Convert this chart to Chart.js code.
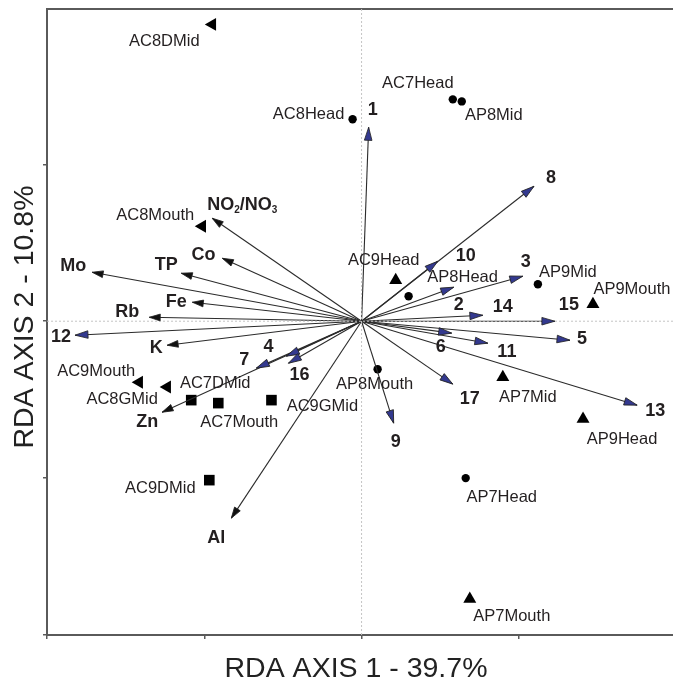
<!DOCTYPE html>
<html>
<head>
<meta charset="utf-8">
<script src="https://cdn.jsdelivr.net/npm/chart.js@4.4.1/dist/chart.umd.min.js"></script>
<style>
  html, body { margin: 0; padding: 0; background: #fff; }
  #plot { display: block; }
</style>
</head>
<body>
<canvas id="plot" width="673" height="678"></canvas>
<script>
// Variables ambientales (flechas con punta negra)
const envNames = ["NO2/NO3", "Co", "TP", "Mo", "Fe", "Rb", "K", "Zn", "Al"];
const envX = [-0.949, -0.885, -1.146, -1.713, -1.076, -1.350, -1.236, -1.268, -0.828];
const envY = [0.656, 0.401, 0.306, 0.312, 0.121, 0.025, -0.153, -0.580, -1.255];

// Especies (flechas con punta azul)
const speciesNames = ["1", "2", "3", "4", "5", "6", "7", "8", "9", "10", "11", "12", "13", "14", "15", "16", "17"];
const speciesX = [0.045, 0.586, 1.025, -0.478, 1.325, 0.573, -0.669, 1.096, 0.204, 0.484, 0.803, -1.822, 1.752, 0.771, 1.229, -0.465, 0.580];
const speciesY = [1.236, 0.217, 0.287, -0.223, -0.121, -0.076, -0.299, 0.860, -0.650, 0.382, -0.140, -0.089, -0.535, 0.038, 0.000, -0.268, -0.401];

// Sitios de muestreo
const siteNames = ["AC8DMid", "AC8Head", "AC7Head", "AP8Mid", "AC8Mouth", "AC9Head", "AP8Head", "AP9Mid", "AP9Mouth", "AC9Mouth",
  "AC8GMid", "AC7DMid", "AC7Mouth", "AC9GMid", "AP8Mouth", "AP7Mid", "AP9Head", "AP7Head", "AC9DMid", "AP7Mouth"];
const siteX = [-0.949, -0.057, 0.580, 0.637, -1.013, 0.217, 0.299, 1.121, 1.471, -1.414,
  -1.236, -1.083, -0.911, -0.573, 0.102, 0.898, 1.408, 0.662, -0.968, 0.688];
const siteY = [1.892, 1.287, 1.414, 1.401, 0.605, 0.261, 0.159, 0.236, 0.108, -0.389,
  -0.420, -0.503, -0.522, -0.503, -0.306, -0.357, -0.624, -1.000, -1.013, -1.771];
const siteShape = ["left", "circle", "circle", "circle", "left", "up", "circle", "circle", "up", "left",
  "left", "square", "square", "square", "circle", "up", "up", "circle", "square", "up"];

const axisTitleX = "RDA AXIS 1 - 39.7%";
const axisTitleY = "RDA AXIS 2 - 10.8%";

// Desplazamiento de etiquetas en pixeles (centro del texto respecto al punto)
const envOffsets = [[30, -13], [-19, -3], [-15, -8], [-19, -6], [-16, 0], [-22, -5], [-11, 3], [-15, 10], [-15, 20]];
const speciesOffsets = [[4, -17], [5, 18], [3, -14], [-18, -9], [12, -1], [-11, 14], [-12, -8], [17, -8], [2, 19], [28, -5],
  [19, 9], [-14, 2], [18, 6], [20, -8], [14, -16], [11, 12], [17, 15]];
const siteOffsets = [[-48, 17], [-44, -5], [-35, -16], [32, 14], [-47, -11], [-12, -20], [54, -19], [30, -12], [39, -15], [-43, -11],
  [-45, 12], [24, -17], [21, 19], [51, 6], [-3, 15], [25, 20], [39, 20], [36, 19], [-49, 8], [42, 17]];

const textColor = "#231f20";
const font = '"Liberation Sans", Arial, sans-serif';

let arrowDataset = (x, y, kind, name, offset) => ({
  type: "line",
  data: [{ x: 0, y: 0 }, { x: x, y: y }],
  borderColor: "#2b2b2b",
  borderWidth: 1.1,
  pointRadius: 0,
  pointHoverRadius: 0,
  kind: kind,
  label: name,
  offset: offset,
});

let shapeStyle = {
  circle: { pointStyle: "circle", radius: 4.2, rotation: 0 },
  up: { pointStyle: "triangle", radius: 7.5, rotation: 0 },
  left: { pointStyle: "triangle", radius: 7.5, rotation: -90 },
  square: { pointStyle: "rect", radius: 7.5, rotation: 0 },
};

let siteDatasets = Object.keys(shapeStyle).map((shape) => {
  let idx = siteShape.map((s, i) => (s === shape ? i : -1)).filter((i) => i >= 0);
  let st = shapeStyle[shape];
  return {
    type: "scatter",
    kind: "site",
    data: idx.map((i) => ({ x: siteX[i], y: siteY[i] })),
    names: idx.map((i) => siteNames[i]),
    offsets: idx.map((i) => siteOffsets[i]),
    pointStyle: st.pointStyle,
    pointRadius: st.radius,
    pointRotation: st.rotation,
    backgroundColor: "#000",
    borderColor: "#000",
    borderWidth: 0,
  };
});

// Lineas punteadas por el origen
let zeroLines = [
  [{ x: 0, y: -2 }, { x: 0, y: 1.99 }],
  [{ x: -2, y: 0 }, { x: 1.98, y: 0 }],
].map((d) => ({
  type: "line",
  kind: "zero",
  data: d,
  borderColor: "#c4c4c4",
  borderWidth: 1,
  borderDash: [2, 2],
  pointRadius: 0,
}));

let envDatasets = envNames.map((n, i) => arrowDataset(envX[i], envY[i], "env", n, envOffsets[i]));
let speciesDatasets = speciesNames.map((n, i) => arrowDataset(speciesX[i], speciesY[i], "species", n, speciesOffsets[i]));

// Plugin: puntas de flecha
const arrowHeads = {
  id: "arrowHeads",
  afterDatasetsDraw(chart) {
    let ctx = chart.ctx;
    chart.data.datasets.forEach((ds, i) => {
      if (ds.kind !== "env" && ds.kind !== "species") return;
      let pts = chart.getDatasetMeta(i).data;
      let a = pts[0], b = pts[1];
      let ang = Math.atan2(b.y - a.y, b.x - a.x);
      let len = ds.kind === "species" ? 13 : 11;
      let half = ds.kind === "species" ? 3.8 : 3.4;
      ctx.save();
      ctx.translate(b.x, b.y);
      ctx.rotate(ang);
      ctx.beginPath();
      ctx.moveTo(0, 0);
      ctx.lineTo(-len, -half);
      ctx.lineTo(-len, half);
      ctx.closePath();
      ctx.fillStyle = ds.kind === "species" ? "#33398f" : "#111";
      ctx.fill();
      ctx.lineWidth = 0.8;
      ctx.strokeStyle = "#222";
      ctx.stroke();
      ctx.restore();
    });
  },
};

// Dibuja "NO2/NO3" con subindices
let drawNO = (ctx, cx, cy) => {
  let big = "bold 18px " + font;
  let small = "bold 10px " + font;
  let parts = [["NO", big, 0], ["2", small, 5], ["/NO", big, 0], ["3", small, 5]];
  let total = 0;
  parts.forEach((p) => { ctx.font = p[1]; total += ctx.measureText(p[0]).width; });
  let x = cx - total / 2;
  ctx.textAlign = "left";
  parts.forEach((p) => {
    ctx.font = p[1];
    ctx.fillText(p[0], x, cy + p[2]);
    x += ctx.measureText(p[0]).width;
  });
};

// Plugin: etiquetas y titulos de ejes
const labelsPlugin = {
  id: "labelsPlugin",
  afterDraw(chart) {
    let ctx = chart.ctx;
    ctx.save();
    ctx.fillStyle = textColor;
    ctx.textBaseline = "middle";
    chart.data.datasets.forEach((ds, i) => {
      let pts = chart.getDatasetMeta(i).data;
      if (ds.kind === "env" || ds.kind === "species") {
        let b = pts[1];
        let x = b.x + ds.offset[0], y = b.y + ds.offset[1];
        if (ds.label === "NO2/NO3") {
          drawNO(ctx, x, y);
        } else {
          ctx.font = "bold 18px " + font;
          ctx.textAlign = "center";
          ctx.fillText(ds.label, x, y);
        }
      } else if (ds.kind === "site") {
        ctx.font = "16.5px " + font;
        ctx.textAlign = "center";
        pts.forEach((p, j) => {
          ctx.fillText(ds.names[j], p.x + ds.offsets[j][0], p.y + ds.offsets[j][1]);
        });
      }
    });

    ctx.font = "28.5px " + font;
    ctx.textAlign = "center";
    ctx.textBaseline = "alphabetic";
    ctx.fillStyle = "#222";
    ctx.fillText(axisTitleX, 356, 677);
    ctx.translate(33, 317);
    ctx.rotate(-Math.PI / 2);
    ctx.fillText(axisTitleY, 0, 0);
    ctx.restore();
  },
};

let axisColor = "#5a5a5a";

// Quitar el relleno que Chart.js reserva para etiquetas ocultas
let fitX = (h) => (scale) => { scale.height = h; scale.paddingLeft = 0; scale.paddingRight = 0; };
let fitY = (w) => (scale) => { scale.width = w; scale.paddingTop = 0; scale.paddingBottom = 0; };

let config = {
  data: {
    datasets: [...zeroLines, ...envDatasets, ...speciesDatasets, ...siteDatasets],
  },
  options: {
    responsive: false,
    animation: false,
    layout: { autoPadding: false, padding: { left: 43, top: 9, bottom: 39, right: 0 } },
    plugins: { legend: { display: false }, tooltip: { enabled: false } },
    scales: {
      x: {
        type: "linear",
        min: -2,
        max: 1.98,
        ticks: { display: false, stepSize: 1, includeBounds: false },
        grid: { drawOnChartArea: false, drawTicks: true, tickLength: 4, color: axisColor, lineWidth: 1.5 },
        border: { display: true, color: axisColor, width: 2 },
        afterFit: fitX(4),
      },
      x2: {
        type: "linear",
        position: "top",
        min: -2,
        max: 1.98,
        ticks: { display: false },
        grid: { display: false },
        border: { display: true, color: axisColor, width: 2 },
        afterFit: fitX(0),
      },
      y: {
        type: "linear",
        min: -2,
        max: 1.99,
        ticks: { display: false, stepSize: 1, includeBounds: false },
        grid: { drawOnChartArea: false, drawTicks: true, tickLength: 4, color: axisColor, lineWidth: 1.5 },
        border: { display: true, color: axisColor, width: 2 },
        afterFit: fitY(4),
      },
    },
  },
  plugins: [arrowHeads, labelsPlugin],
};

let chart = new Chart(document.getElementById("plot"), config);
</script>
</body>
</html>
